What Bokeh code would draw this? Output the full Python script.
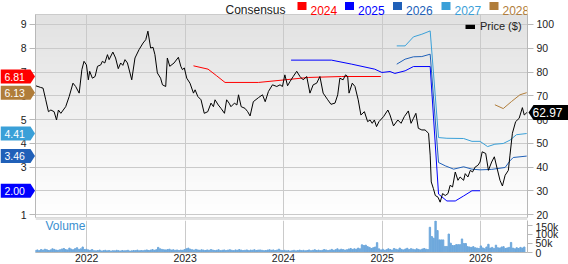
import numpy as np
import pandas as pd
from bokeh.plotting import figure
from bokeh.models import (Range1d, LinearAxis, FixedTicker, DatetimeTickFormatter,
                          Label, Legend, LegendItem, NumeralTickFormatter, ColumnDataSource)
from bokeh.core.properties import value
from bokeh.layouts import column, row
from bokeh.embed import file_html
from bokeh.resources import INLINE

FONT = "Liberation Sans"

# ---------------- data ----------------
price_dates = [
    "2021-06-26", "2021-07-14", "2021-07-23", "2021-08-02", "2021-08-12", "2021-08-21", "2021-09-02",
    "2021-09-11", "2021-09-18", "2021-09-27", "2021-10-15", "2021-10-28", "2021-11-11", "2021-11-21",
    "2021-12-04", "2021-12-14", "2021-12-22", "2021-12-31", "2022-01-07", "2022-01-12", "2022-01-22",
    "2022-02-01", "2022-02-10", "2022-02-22", "2022-02-28", "2022-03-09", "2022-03-19", "2022-03-25",
    "2022-04-08", "2022-04-18", "2022-04-28", "2022-05-07", "2022-05-15", "2022-05-23", "2022-06-01",
    "2022-06-17", "2022-06-29", "2022-07-14", "2022-07-29", "2022-08-08", "2022-08-16", "2022-08-26",
    "2022-09-04", "2022-09-11", "2022-09-20", "2022-10-02", "2022-10-09", "2022-10-21", "2022-10-27",
    "2022-11-05", "2022-11-21", "2022-12-07", "2022-12-16", "2022-12-22", "2022-12-29", "2023-01-07",
    "2023-01-19", "2023-02-01", "2023-02-07", "2023-02-17", "2023-03-01", "2023-03-13", "2023-03-26",
    "2023-04-07", "2023-04-16", "2023-04-22", "2023-05-04", "2023-05-14", "2023-05-27", "2023-06-04",
    "2023-06-13", "2023-06-20", "2023-07-03", "2023-07-12", "2023-07-18", "2023-07-28", "2023-08-11",
    "2023-08-21", "2023-08-30", "2023-09-11", "2023-09-30", "2023-10-15", "2023-10-25", "2023-11-06",
    "2023-11-21", "2023-12-07", "2023-12-19", "2023-12-28", "2024-01-06", "2024-01-16", "2024-01-25",
    "2024-02-06", "2024-02-19", "2024-03-02", "2024-03-14", "2024-03-27", "2024-04-08", "2024-04-20",
    "2024-05-03", "2024-05-15", "2024-05-27", "2024-06-13", "2024-06-25", "2024-07-10", "2024-07-20",
    "2024-07-28", "2024-08-09", "2024-08-18", "2024-08-26", "2024-08-31", "2024-09-12", "2024-09-22",
    "2024-10-04", "2024-10-14", "2024-10-27", "2024-11-08", "2024-11-17", "2024-11-25", "2024-12-03",
    "2024-12-11", "2024-12-20", "2025-01-06", "2025-01-22", "2025-01-30", "2025-02-12", "2025-02-28",
    "2025-03-12", "2025-03-24", "2025-04-08", "2025-04-18", "2025-04-27", "2025-05-06", "2025-05-15",
    "2025-05-28", "2025-06-09", "2025-06-22", "2025-06-28", "2025-07-02", "2025-07-10", "2025-07-17",
    "2025-07-27", "2025-08-04", "2025-08-13", "2025-08-23", "2025-09-02", "2025-09-10", "2025-09-19",
    "2025-09-29", "2025-10-09", "2025-10-17", "2025-10-30", "2025-11-05", "2025-11-15", "2025-11-24",
    "2025-12-02", "2025-12-12", "2025-12-22", "2025-12-30", "2026-01-07", "2026-01-20", "2026-01-30",
    "2026-02-11", "2026-02-21", "2026-03-02", "2026-03-14", "2026-03-23", "2026-04-02", "2026-04-14",
    "2026-04-20", "2026-04-29", "2026-05-11", "2026-05-24", "2026-06-05", "2026-06-12", "2026-06-22",
]
price_vals = [
    74.2, 73.5, 73.2, 68.3, 63.3, 64.0, 63.3, 59.8, 64.0, 62.6, 65.4, 69.7, 75.3, 73.9,
    71.1, 81.0, 84.5, 83.0, 76.7, 80.3, 77.4, 78.1, 82.4, 83.0, 84.5, 83.8, 87.3, 85.2,
    88.4, 85.9, 81.4, 83.8, 82.8, 85.2, 83.8, 76.7, 85.9, 89.4, 92.2, 93.6, 97.2, 90.1,
    90.4, 87.3, 79.6, 77.4, 74.6, 73.9, 85.9, 82.4, 83.8, 86.2, 82.4, 81.0, 81.7, 77.4,
    75.3, 71.1, 72.5, 69.7, 68.3, 62.6, 63.3, 66.9, 65.4, 68.3, 66.1, 64.7, 62.6, 68.3,
    66.9, 65.4, 66.9, 66.1, 70.4, 65.4, 64.7, 63.3, 61.5, 67.5, 69.2, 70.4, 67.5, 71.8,
    74.6, 73.9, 74.6, 73.9, 78.8, 74.2, 76.0, 78.1, 80.3, 78.1, 76.7, 78.1, 71.1, 74.6,
    75.3, 78.1, 71.1, 68.3, 66.4, 66.9, 70.4, 77.4, 76.7, 78.8, 78.1, 71.1, 75.3, 73.9,
    68.3, 61.9, 63.3, 59.1, 59.8, 58.4, 59.8, 57.0, 59.1, 61.2, 64.0, 61.9, 57.3, 59.8,
    58.4, 61.2, 63.6, 58.4, 60.5, 62.6, 56.3, 55.6, 55.6, 54.2, 45.0, 33.7, 30.9, 28.0,
    27.3, 25.2, 28.8, 28.0, 28.8, 32.3, 31.6, 37.9, 34.4, 35.8, 34.4, 37.2, 35.8, 38.6,
    37.9, 40.0, 40.7, 42.1, 46.4, 45.7, 38.6, 42.1, 44.3, 40.0, 34.4, 32.0, 36.5, 38.6,
    45.0, 54.2, 59.1, 60.5, 65.0, 61.9, 62.97,
]

c2024_dates = ["2023-02-01", "2023-03-27", "2023-04-28", "2023-05-29", "2023-09-30", "2023-12-19",
               "2024-04-02", "2024-08-04", "2024-12-27"]
c2024 = [7.26, 7.12, 6.84, 6.56, 6.56, 6.65, 6.77, 6.81, 6.81]

c2025_dates = ["2024-01-29", "2024-06-27", "2024-09-10", "2024-12-04", "2024-12-31", "2025-01-30",
               "2025-02-17", "2025-03-27", "2025-04-27", "2025-06-28", "2025-07-29", "2025-08-29",
               "2025-09-29", "2025-10-30", "2025-11-30", "2025-12-30"]
c2025 = [7.50, 7.50, 7.33, 7.12, 6.98, 7.02, 6.94, 7.05, 7.23, 7.23, 1.86, 1.57, 1.57, 1.78, 2.00, 2.00]

c2026_dates = ["2025-02-24", "2025-03-27", "2025-04-27", "2025-05-28", "2025-06-28", "2025-07-29",
               "2025-08-23", "2025-09-23", "2025-10-30", "2025-11-30", "2025-12-30", "2026-02-11",
               "2026-04-02", "2026-04-20", "2026-05-02", "2026-06-21"]
c2026 = [7.33, 7.54, 7.64, 7.65, 7.75, 3.19, 3.05, 2.91, 3.01, 2.91, 2.88, 2.90, 2.98, 3.26, 3.40, 3.46]

c2027_dates = ["2025-02-24", "2025-03-27", "2025-04-27", "2025-05-28", "2025-06-28", "2025-07-29",
               "2025-08-29", "2025-10-30", "2025-11-30", "2025-12-30", "2026-01-27", "2026-02-23",
               "2026-03-26", "2026-04-20", "2026-05-14", "2026-06-21"]
c2027 = [8.10, 8.10, 8.48, 8.59, 8.73, 4.24, 4.21, 4.20, 4.08, 4.08, 3.86, 3.96, 3.99, 4.13, 4.36, 4.41]

c2028_dates = ["2026-02-23", "2026-03-26", "2026-04-26", "2026-05-27", "2026-06-21"]
c2028 = [5.62, 5.46, 5.76, 6.04, 6.13]

# weekly volume (thousands), starting 2021-06-25
vol_start = "2021-06-25"
vol_2021 = [12, 14, 10, 16, 13, 18, 15, 11, 14, 20, 17, 13, 12, 15, 19, 22, 16, 14, 24, 18, 15, 21, 26, 17,
            20, 30, 16]
vol_2022 = [18, 14, 12, 16, 10, 9, 11, 13, 8, 10, 12, 9, 11, 8, 10, 9, 12, 10, 8, 11, 9, 10, 12, 8, 9, 11,
            10, 13, 9, 11, 10, 12, 14, 11, 13, 16, 12, 15, 28, 20, 17, 15, 14, 16, 18, 13, 15, 12, 14, 11,
            13, 12]
vol_2023 = [16, 20, 24, 18, 15, 13, 17, 14, 12, 15, 13, 11, 14, 12, 16, 13, 11, 12, 15, 10, 12, 14, 11, 13,
            15, 12, 10, 14, 12, 16, 13, 11, 12, 14, 10, 13, 12, 15, 11, 13, 14, 12, 10, 11, 13, 15, 12, 14,
            11, 13, 18, 12]
vol_2024 = [10, 12, 9, 11, 8, 10, 12, 9, 11, 13, 10, 12, 9, 11, 14, 10, 12, 15, 11, 13, 10, 12, 16, 14,
            11, 13, 17, 12, 15, 20, 14, 18, 16, 13, 15, 19, 22, 17, 20, 18, 24, 20, 42, 38, 40, 32, 28, 22,
            26, 30, 54, 20]
vol_2025 = [14, 18, 12, 15, 20, 16, 13, 22, 18, 15, 24, 17, 14, 19, 23, 16, 21, 18, 15, 20, 17, 14, 19, 22,
            18, 16, 138, 87, 78, 172, 120, 69, 69, 69, 33, 33, 101, 51, 38, 38, 43, 43, 43, 74, 49, 49, 32,
            30, 28, 32, 26, 24]
vol_2026 = [22, 36, 25, 20, 30, 45, 24, 28, 22, 40, 26, 24, 30, 32, 22, 25, 28, 55, 24, 20, 26, 22, 28, 24, 30]

eps_ticks = [1, 2, 3, 4, 5, 6, 7, 8, 9]
price_ticks = [20, 30, 40, 50, 60, 70, 80, 90, 100]
vol_ticks = [0, 50000, 100000, 150000]
years = [2022, 2023, 2024, 2025, 2026]
legend_years = ["2024", "2025", "2026", "2027", "2028"]
legend_colors = ["#ff0000", "#0000ff", "#2060b8", "#3aa0d8", "#b07d3a"]


def ms(s):
    return pd.Timestamp(s).value // 10**6


# ---------------- geometry (canvas pixels) ----------------
W, H_MAIN, H_VOL = 568, 220, 44
FL, FR, FT, FB = 35, 527, 14, 217          # plot area of the price panel
X0, X1 = ms("2021-06-25"), ms("2026-06-24")
EPS_LO, EPS_HI = 0.874, 9.421
MS_PER_PX = (X1 - X0) / (FR - FL)
EPS_PER_PX = (EPS_HI - EPS_LO) / (FB - FT)


def cx(c):
    return X0 + (c - FL) * MS_PER_PX


def ey(r):
    return EPS_HI - (r - FT) * EPS_PER_PX


def to_price(e):
    return e * 10 + 10


year_ticks = [ms(f"{y}-01-01") for y in years]
GRID = "#cacaca"
AX = "#b8b8b8"
TXT = "#222222"

# ---------------- main price / consensus panel ----------------
p = figure(width=W, height=H_MAIN, title=None, x_range=Range1d(X0, X1), y_range=Range1d(EPS_LO, EPS_HI),
           x_axis_type="datetime", x_axis_location=None, output_backend="svg",
           toolbar_location=None, min_border_left=FL, min_border_right=W - FR,
           min_border_top=FT, min_border_bottom=H_MAIN - FB)
p.extra_y_ranges = {"price": Range1d(to_price(EPS_LO), to_price(EPS_HI))}
p.outline_line_color = "#c4c4c4"
p.background_fill_color = "white"
p.border_fill_color = "white"

# vertical gradient background of the plot area
n = 160
img = np.empty((n, 1), dtype=np.uint32)
view = img.view(dtype=np.uint8).reshape((n, 1, 4))
g = np.linspace(255, 226, n).astype(np.uint8)
view[:, 0, 0] = g
view[:, 0, 1] = g
view[:, 0, 2] = g
view[:, 0, 3] = 255
p.image_rgba(image=[img], x=X0, y=EPS_LO, dw=X1 - X0, dh=EPS_HI - EPS_LO, level="image")

p.xgrid.ticker = FixedTicker(ticks=year_ticks)
p.xgrid.grid_line_color = GRID
p.ygrid.grid_line_color = GRID

la = p.yaxis[0]
la.ticker = FixedTicker(ticks=eps_ticks)
ra = LinearAxis(y_range_name="price", ticker=FixedTicker(ticks=price_ticks))
p.add_layout(ra, "right")
for ax in (la, ra):
    ax.axis_line_color = AX
    ax.major_tick_line_color = AX
    ax.major_tick_out = 6
    ax.major_tick_in = 0
    ax.minor_tick_out = 0
    ax.minor_tick_in = 0
    ax.major_label_text_font = FONT
    ax.major_label_text_font_size = "10.5px"
    ax.major_label_text_color = TXT
    ax.major_label_standoff = 3

for d, vals, col in [(c2024_dates, c2024, legend_colors[0]), (c2025_dates, c2025, legend_colors[1]),
                     (c2026_dates, c2026, legend_colors[2]), (c2027_dates, c2027, legend_colors[3]),
                     (c2028_dates, c2028, legend_colors[4])]:
    p.line(pd.to_datetime(d), vals, color=col, line_width=1)

p.line(pd.to_datetime(price_dates), price_vals, color="black", line_width=1, y_range_name="price")

# ---------------- overlay 1 (beside the price panel in a row): value tags ----------------
# its plot area is aligned vertically with the price panel, and spans the full width
o1 = figure(width=W, height=H_MAIN, title=None, x_range=Range1d(cx(0), cx(W)),
            y_range=Range1d(EPS_LO, EPS_HI), x_axis_type="datetime", x_axis_location=None,
            y_axis_location=None, output_backend="svg", toolbar_location=None,
            min_border_left=0, min_border_right=0, min_border_top=0, min_border_bottom=0,
            margin=(0, 0, 0, -W))
o1.extra_y_ranges = {"price": Range1d(to_price(EPS_LO), to_price(EPS_HI))}
o1.outline_line_color = None
o1.background_fill_alpha = 0
o1.border_fill_alpha = 0
o1.xgrid.visible = False
o1.ygrid.visible = False

tag_vals = [c2024[-1], c2028[-1], c2027[-1], c2026[-1], c2025[-1]]
tag_cols = [legend_colors[0], legend_colors[4], legend_colors[3], legend_colors[2], legend_colors[1]]
half = 7.0 * EPS_PER_PX
o1.patches(xs=[[cx(0), cx(30), cx(34.5), cx(30), cx(0)] for _ in tag_vals],
           ys=[[t - half, t - half, t, t + half, t + half] for t in tag_vals],
           fill_color=tag_cols, line_alpha=0)
o1.text(x=[cx(4)] * len(tag_vals), y=tag_vals, text=[f"{t:.2f}" for t in tag_vals],
        text_color="white", text_font=value(FONT), text_font_size=value("10.5px"),
        text_baseline="middle")

pv = price_vals[-1]
halfp = 7.5 * EPS_PER_PX * 10
o1.patches(xs=[[cx(528), cx(533), cx(W), cx(W), cx(533)]],
           ys=[[pv, pv + halfp, pv + halfp, pv - halfp, pv - halfp]],
           fill_color="black", line_alpha=0, y_range_name="price")
o1.text(x=[cx(532)], y=[pv], text=[f"{pv:.2f}"], text_color="white", text_font=value(FONT),
        text_font_size=value("12px"), text_baseline="middle", y_range_name="price")

# ---------------- overlay 2 (absolute, in the column): legends and separator ----------------
# its plot area is aligned horizontally with the panels, and spans the full height
o2 = figure(width=W, height=H_MAIN, title=None, x_range=Range1d(X0, X1),
            y_range=Range1d(ey(H_MAIN), ey(0)), x_axis_type="datetime", x_axis_location=None,
            y_axis_location=None, output_backend="svg", toolbar_location=None,
            min_border_left=0, min_border_right=0, min_border_top=0, min_border_bottom=0,
            styles={"position": "absolute", "left": "0px", "top": "0px"})
o2.outline_line_color = None
o2.background_fill_alpha = 0
o2.border_fill_alpha = 0
o2.xgrid.visible = False
o2.ygrid.visible = False

# separator band between price panel and volume panel
o2.quad(left=[X0], right=[X1], top=[ey(FB)], bottom=[ey(219.5)], fill_color="#e2e2e2", line_alpha=0)

# top consensus legend
sq_x = [297, 344.5, 392.5, 441, 489]
o2.quad(left=[cx(s) for s in sq_x], right=[cx(s + 9) for s in sq_x],
        bottom=[ey(9.5)] * 5, top=[ey(1.5)] * 5, fill_color=legend_colors, line_alpha=0)
leg_src = ColumnDataSource(dict(
    x=[cx(225)] + [cx(s + 13) for s in sq_x],
    y=[ey(9.5)] * 6,
    text=["Consensus"] + legend_years,
    color=[TXT] + legend_colors,
))
o2.text(x="x", y="y", text="text", text_color="color", source=leg_src, text_font=value(FONT),
        text_font_size=value("12px"), text_baseline="alphabetic")

# price legend
dummy = o2.line(x=[cx(-50), cx(-40)], y=[0, 0], color="black", line_width=4.5)
leg = Legend(items=[LegendItem(label="Price ($)", renderers=[dummy])], location=(465 - FL, H_MAIN - 32),
             padding=0, margin=0, spacing=0, glyph_width=10, glyph_height=5, label_height=11,
             label_standoff=5, label_text_font_size="11px", label_text_font=FONT,
             label_text_color=TXT, background_fill_alpha=0, border_line_alpha=0)
o2.add_layout(leg)

# ---------------- volume panel ----------------
vol_k = vol_2021 + vol_2022 + vol_2023 + vol_2024 + vol_2025 + vol_2026
vol_dates = pd.date_range(vol_start, periods=len(vol_k), freq="7D")
VOL_TOP = 175000

v = figure(width=W, height=H_VOL, title=None, x_range=p.x_range, y_range=Range1d(0, VOL_TOP),
           x_axis_type="datetime", y_axis_location="right", output_backend="svg",
           toolbar_location=None, min_border_left=FL, min_border_right=W - FR,
           min_border_top=0, min_border_bottom=0)
v.outline_line_color = None
v.background_fill_color = "white"
v.border_fill_color = "white"
v.ygrid.visible = False
v.xgrid.grid_line_color = GRID

v.vbar(x=vol_dates, top=np.array(vol_k) * 1000, width=5 * 86400000, color="#6ea8dc")

xa = v.xaxis[0]
xa.ticker = FixedTicker(ticks=year_ticks)
xa.formatter = DatetimeTickFormatter(years="%Y", months="%Y", days="%Y", hours="%Y")
xa.major_tick_out = 0
xa.major_tick_in = 0
xa.minor_tick_out = 0
xa.minor_tick_in = 0
xa.axis_line_color = AX
xa.major_label_standoff = 1

ya = v.yaxis[0]
ya.ticker = FixedTicker(ticks=vol_ticks)
ya.formatter = NumeralTickFormatter(format="0a")
ya.axis_line_color = AX
ya.major_tick_line_color = AX
ya.major_tick_out = 5
ya.major_tick_in = 0
ya.minor_tick_out = 0
ya.minor_tick_in = 0
ya.major_label_standoff = 3
for ax in (xa, ya):
    ax.major_label_text_font = FONT
    ax.major_label_text_font_size = "10.5px"
    ax.major_label_text_color = TXT

v.add_layout(Label(x=10, y=19.5, x_units="screen", y_units="screen", text="Volume",
                   text_color="#3a8fd0", text_font=FONT, text_font_size="12px"))

layout = column(row(p, o1), v, o2)
open("out.html", "w").write(file_html(layout, INLINE))
